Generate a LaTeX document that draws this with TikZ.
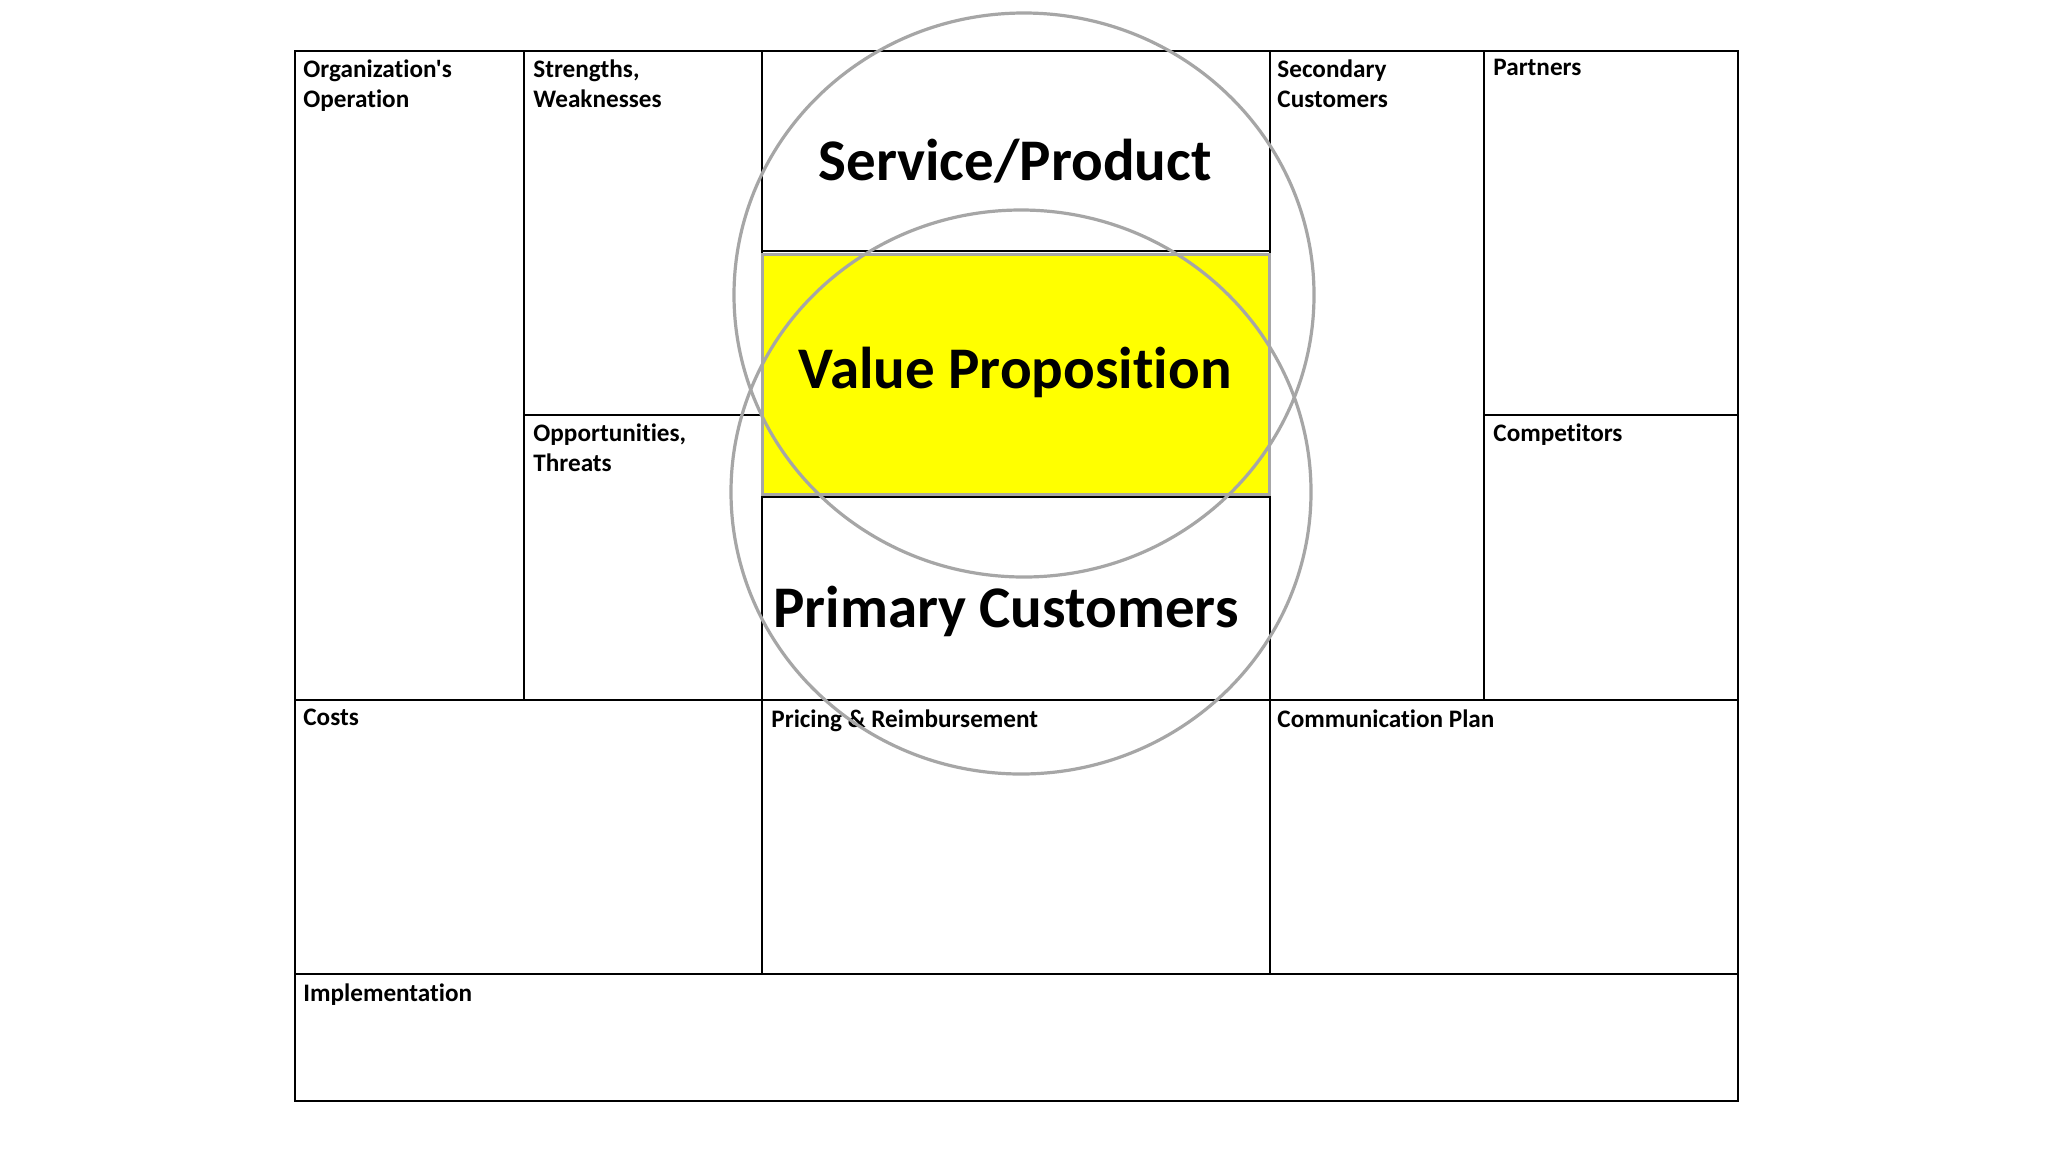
\documentclass[tikz,border=0pt]{standalone}
\usepackage{fontspec}
\setmainfont{Carlito}[Ligatures={TeXOff,CommonOff}]
\definecolor{ringgray}{HTML}{A6A6A6}
\definecolor{vpyellow}{HTML}{FFFF00}
\begin{document}
\begin{tikzpicture}[x=0.5pt,y=-0.5pt]
\tikzset{
  gridline/.style={draw=black,line width=1pt},
  outerline/.style={draw=black,line width=1.2pt},
  ring/.style={draw=ringgray,line width=1.6pt},
  vpbox/.style={fill=vpyellow,draw=ringgray,line width=1.5pt},
  lbl/.style={anchor=north west,inner sep=0pt,align=left,font=\bfseries\fontsize{12.6}{15}\selectfont},
  big/.style={anchor=base,inner sep=0pt,font=\bfseries\fontsize{29.5}{32}\selectfont}
}
\useasboundingbox[fill=white] (0,0) rectangle (2048,1152);
% grid
\draw[gridline] (524,51) -- (524,700);
\draw[gridline] (762,51) -- (762,974);
\draw[gridline] (1270,51) -- (1270,974);
\draw[gridline] (1484,51) -- (1484,700);
\draw[gridline] (524,415) -- (762,415);
\draw[gridline] (1484,415) -- (1738,415);
\draw[gridline] (295,700) -- (1738,700);
\draw[gridline] (295,974) -- (1738,974);
\draw[gridline] (762,251) -- (1270,251);
\draw[gridline] (762,497) -- (1270,497);
% value proposition box
\path[vpbox] (762,254) rectangle (1269,494);
\draw[outerline] (295,51) rectangle (1738,1101);
% labels
\node[lbl] (org) at (303,59) {Organization's\\Operation};
\node[lbl] (sw) at (533,59) {Strengths,\\Weaknesses};
\node[lbl] (sec) at (1277,59) {Secondary\\Customers};
\node[lbl] (part) at (1493,59) {Partners};
\node[lbl] (ot) at (533,423) {Opportunities,\\Threats};
\node[lbl] (comp) at (1493,423) {Competitors};
\node[lbl] (costs) at (303,709) {Costs};
\node[lbl] (price) at (771,709) {Pricing \& Reimbursement};
\node[lbl] (comm) at (1277,709) {Communication Plan};
\node[lbl] (impl) at (303,983) {Implementation};
% big labels
\node[big] (sp) at (1015,180) {Service/Product};
\node[big] (vp) at (1015,388) {Value Proposition};
\node[big] (pc) at (1006,627) {Primary Customers};
% circles
\draw[ring] (1024,295) ellipse [x radius=290, y radius=282];
\draw[ring] (1021,492) ellipse [x radius=290, y radius=282];
\end{tikzpicture}
\end{document}
